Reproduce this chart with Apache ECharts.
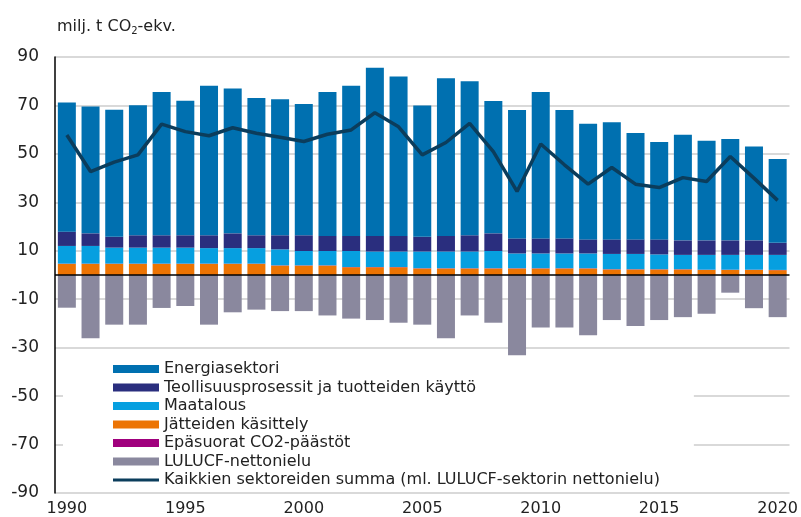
<!DOCTYPE html>
<html>
<head>
<meta charset="utf-8">
<script src="https://cdn.jsdelivr.net/npm/echarts@6/dist/echarts.min.js"></script>
<style>html,body{margin:0;padding:0;background:#fff}#c{width:801px;height:517px}</style>
</head>
<body>
<div id="c"></div>
<script>
var years = ['1990','1991','1992','1993','1994','1995','1996','1997','1998','1999','2000','2001','2002','2003','2004','2005','2006','2007','2008','2009','2010','2011','2012','2013','2014','2015','2016','2017','2018','2019','2020'];
var energia = [53.3,52.4,52.4,53.7,59.1,55.5,61.7,59.8,56.7,56.2,54.2,59.5,62.0,69.5,65.8,54.2,65.1,63.6,54.6,53.0,60.4,53.0,47.7,48.4,43.9,40.2,43.6,41.1,41.8,38.7,34.6];
var teollisuus = [5.9,5.2,4.5,5.1,5.1,5.1,5.3,6.1,5.3,5.8,6.5,6.2,6.2,6.4,6.4,6.1,6.4,6.7,7.3,6.2,6.2,6.2,5.8,6.0,6.0,6.2,6.0,6.0,6.0,6.0,5.0];
var maatalous = [7.3,7.3,6.6,6.6,6.6,6.6,6.4,6.4,6.4,6.6,5.9,5.9,6.6,6.4,6.4,6.9,6.9,6.9,7.1,6.1,6.1,6.1,6.1,6.3,6.3,6.1,5.9,6.1,6.1,6.1,6.2];
var jatteet = [4.6,4.6,4.6,4.6,4.6,4.6,4.6,4.6,4.6,3.9,3.9,3.9,3.2,3.2,3.2,2.7,2.7,2.7,2.7,2.7,2.7,2.7,2.7,2.3,2.3,2.3,2.3,2.1,2.1,2.1,2.0];
var epasuorat = [0.1,0.1,0.1,0.1,0.1,0.1,0.1,0.1,0.1,0.1,0.1,0.1,0.1,0.1,0.1,0.1,0.1,0.1,0.1,0.1,0.1,0.1,0.1,0.1,0.1,0.1,0.1,0.1,0.1,0.1,0.1];
var lulucf = [-13.5,-26.1,-20.5,-20.5,-13.6,-12.8,-20.5,-15.4,-14.3,-14.9,-14.9,-16.7,-18.0,-18.6,-19.7,-20.5,-26.1,-16.7,-19.7,-33.1,-21.7,-21.7,-24.9,-18.6,-21.1,-18.6,-17.4,-16.0,-7.3,-13.7,-17.4];
var summa = [57.8,42.7,46.6,49.6,62.3,59.2,57.5,60.8,58.5,56.9,55.1,58.1,59.9,67.0,61.2,49.6,54.7,62.6,50.9,34.5,54.1,45.5,37.5,44.4,37.5,36.1,40.2,38.6,48.9,40.0,30.8];
var seriesNames = ['Energiasektori','Teollisuusprosessit ja tuotteiden käyttö','Maatalous','Jätteiden käsittely','Epäsuorat CO2-päästöt','LULUCF-nettonielu','Kaikkien sektoreiden summa (ml. LULUCF-sektorin nettonielu)'];
var yTicks = {min: -90, max: 90, interval: 20};

var FONT = 'DejaVu Sans';
var chart = echarts.init(document.getElementById('c'), null, {renderer: 'canvas'});
function bar(name, data, color) {
  return {name: name, type: 'bar', stack: 'total', data: data, barCategoryGap: '24%',
          itemStyle: {color: color}, emphasis: {disabled: true}};
}
var waste = bar(seriesNames[3], jatteet, '#ec7404');
var indir = bar(seriesNames[4], epasuorat, '#a0007d');
var agri = bar(seriesNames[2], maatalous, '#069fe0');
var ind = bar(seriesNames[1], teollisuus, '#2a2e7e');
var en = bar(seriesNames[0], energia, '#0070b0');
var lu = bar(seriesNames[5], lulucf, '#8a889e');
lu.markLine = {silent: true, symbol: 'none', label: {show: false},
  lineStyle: {color: '#000', type: 'solid', width: 1.5}, data: [{yAxis: 0}]};
var line = {name: seriesNames[6], type: 'line', data: summa, symbol: 'none', z: 5,
  lineStyle: {color: '#0b3d5c', width: 3.5}, itemStyle: {color: '#0b3d5c'}, emphasis: {disabled: true}};

chart.setOption({
  animation: false,
  title: {
    text: '{a|milj. t CO}{s|2}{a|-ekv.}',
    left: 57, top: 17, padding: 0,
    textStyle: {rich: {
      a: {fontFamily: FONT, fontSize: 16, color: '#222', fontWeight: 'normal'},
      s: {fontFamily: FONT, fontSize: 10, color: '#222', fontWeight: 'normal', verticalAlign: 'bottom', padding: [9, 0, 0, 0]}
    }}
  },
  grid: {left: 55, right: 10, top: 57, bottom: 24, containLabel: false},
  legend: {
    orient: 'vertical', left: 63, top: 357,
    padding: [4, 34, 4, 50],
    backgroundColor: '#fff',
    itemWidth: 46, itemHeight: 8, itemGap: 2.5,
    z: 10,
    textStyle: {fontFamily: FONT, fontSize: 16, color: '#222', lineHeight: 16},
    data: seriesNames.map(function (n, i) {
      return i < 6 ? {name: n, icon: 'rect'} : {name: n, icon: 'path://M0,0 L46,0 L46,3 L0,3 Z'};
    })
  },
  xAxis: {
    type: 'category', data: years,
    axisLine: {show: false, onZero: false},
    axisTick: {show: false},
    axisLabel: {interval: 4, fontFamily: FONT, fontSize: 16, color: '#222', margin: 8}
  },
  yAxis: {
    type: 'value', min: yTicks.min, max: yTicks.max, interval: yTicks.interval,
    axisLine: {show: true, lineStyle: {color: '#000', width: 1.5}},
    axisTick: {show: false},
    axisLabel: {fontFamily: FONT, fontSize: 17, color: '#222', margin: 16},
    splitLine: {lineStyle: {color: '#cccccc', width: 1.5}}
  },
  series: [waste, indir, agri, ind, en, lu, line]
});
</script>
</body>
</html>
